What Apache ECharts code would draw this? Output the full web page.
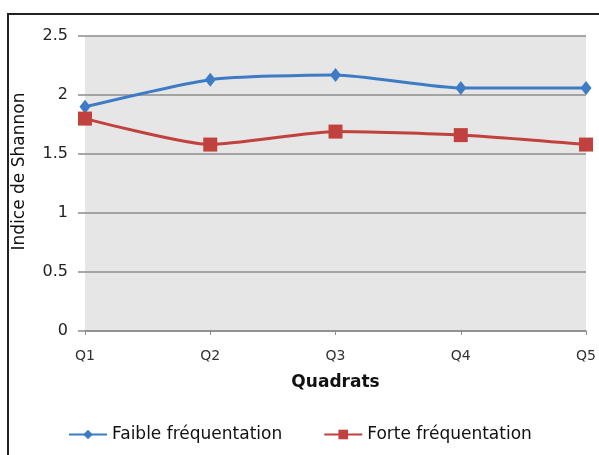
<!DOCTYPE html>
<html>
<head>
<meta charset="utf-8">
<script src="https://cdn.jsdelivr.net/npm/echarts@6/dist/echarts.min.js"></script>
<style>
  html, body { margin: 0; padding: 0; background: #fff; }
  #myChart { width: 599px; height: 455px; }
</style>
</head>
<body>
<div id="myChart"></div>
<script>
// categories / series values
var quadrats = ['Q1', 'Q2', 'Q3', 'Q4', 'Q5'];
var faible = [1.90, 2.13, 2.17, 2.06, 2.06];
var forte = [1.80, 1.58, 1.69, 1.66, 1.58];
var yTicks = [0, 0.5, 1, 1.5, 2, 2.5];

var FONT = 'DejaVu Sans';
var myChart = echarts.init(document.getElementById('myChart'));

var option = {
  animation: false,
  textStyle: { fontFamily: FONT },
  graphic: [{
    type: 'rect',
    shape: { x: 8, y: 14, width: 640, height: 500 },
    style: { fill: 'none', stroke: '#222', lineWidth: 2 },
    silent: true
  }],
  grid: {
    left: 85, right: 10, top: 36, bottom: 124,
    show: true, backgroundColor: '#e6e6e6', borderWidth: 0
  },
  legend: {
    left: 63, top: 421,
    itemWidth: 38, itemHeight: 12, itemGap: 41,
    textStyle: { fontFamily: FONT, fontSize: 17, color: '#111' },
    data: ['Faible fréquentation', 'Forte fréquentation']
  },
  xAxis: {
    type: 'category',
    data: quadrats,
    boundaryGap: false,
    name: 'Quadrats',
    nameLocation: 'middle',
    nameGap: 43,
    nameTextStyle: { fontFamily: FONT, fontSize: 17, fontWeight: 'bold', color: '#111' },
    axisLine: { lineStyle: { color: '#8c8c8c', width: 1.5 } },
    axisTick: { show: true, length: 4, lineStyle: { color: '#8c8c8c' } },
    axisLabel: { margin: 18, fontSize: 14, color: '#333' },
    splitLine: { show: false }
  },
  yAxis: {
    type: 'value',
    min: yTicks[0], max: yTicks[yTicks.length - 1], interval: 0.5,
    name: 'Indice de Shannon',
    nameLocation: 'middle',
    nameGap: 57,
    nameTextStyle: { fontFamily: FONT, fontSize: 17, color: '#111', padding: [0, 0, 0, 24] },
    axisLine: { show: false },
    axisTick: { show: true, length: 7, lineStyle: { color: '#8c8c8c', width: 1.5 } },
    axisLabel: { margin: 17, fontSize: 16, color: '#222' },
    splitLine: { lineStyle: { color: '#8c8c8c', width: 1.5 } }
  },
  series: [
    {
      name: 'Faible fréquentation',
      type: 'line',
      data: faible,
      smooth: 0.2,
      symbol: 'diamond',
      symbolSize: [11, 14],
      color: '#3d7cc4',
      lineStyle: { width: 3, color: '#3d7cc4' },
      itemStyle: { color: '#3d7cc4' }
    },
    {
      name: 'Forte fréquentation',
      type: 'line',
      data: forte,
      smooth: 0.2,
      symbol: 'rect',
      symbolSize: 14,
      color: '#c0413d',
      lineStyle: { width: 3, color: '#c0413d' },
      itemStyle: { color: '#c0413d' }
    }
  ]
};

window.onresize = myChart.resize;
myChart.setOption(option);
</script>
</body>
</html>
